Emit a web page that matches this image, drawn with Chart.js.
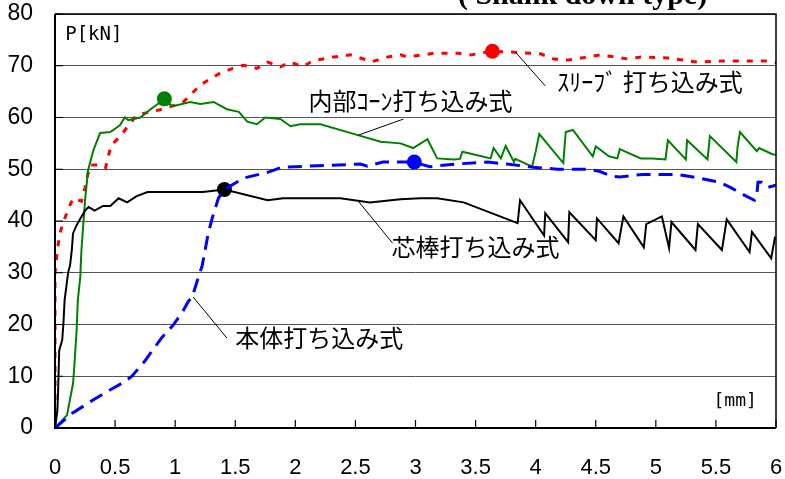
<!DOCTYPE html>
<html>
<head>
<meta charset="utf-8">
<script src="https://cdn.jsdelivr.net/npm/chart.js@4"></script>
<style>
html,body{margin:0;padding:0;background:#fff;}
#wrap{width:785px;height:479px;position:relative;}
</style>
</head>
<body>
<div id="wrap"><canvas id="c" width="785" height="479"></canvas></div>
<script>
// ---- data (x: displacement mm, y: load kN) ----
const xTickLabels = ['0','0.5','1','1.5','2','2.5','3','3.5','4','4.5','5','5.5','6'];
const yTickLabels = ['0','10','20','30','40','50','60','70','80'];

const sleeveData = [[0,0],[0,15],[0,30],[0.02,34.4],[0.04,37.6],[0.07,39.8],[0.11,42.3],[0.15,44.4],[0.22,43.8],[0.25,46.5],[0.29,50.8],[0.36,50.8],[0.42,50.2],[0.44,52.3],[0.47,54.7],[0.54,56.3],[0.68,60.5],[0.875,61.5],[1.06,62.8],[1.21,66.3],[1.375,68.6],[1.48,69.5],[1.57,70.1],[1.68,69.5],[1.77,70.7],[1.875,69.8],[1.96,70.7],[2.06,69.8],[2.15,71],[2.32,71.7],[2.46,72.1],[2.54,71.5],[2.64,70.8],[2.77,71.7],[2.875,72.1],[2.93,71.7],[3.15,72.4],[3.35,72.4],[3.46,72.1],[3.64,72.8],[3.76,72.7],[4.04,72.3],[4.15,71.3],[4.27,71.1],[4.54,72.1],[4.77,71.3],[4.875,71.7],[5.1,71.5],[5.35,70.7],[5.54,70.9],[5.93,70.9],[6,70.6]];

const innerConeData = [[0,0],[0.1,2.5],[0.15,8.6],[0.16,11.7],[0.18,18.9],[0.19,24.7],[0.21,29.1],[0.22,34.4],[0.25,44],[0.275,49.8],[0.32,53.7],[0.375,57],[0.46,57.2],[0.54,58.5],[0.58,60],[0.61,59.5],[0.71,60],[0.79,61.5],[0.9,63.4],[0.98,62.2],[1.125,63],[1.21,62.6],[1.32,63],[1.43,61.6],[1.53,61.1],[1.6,59.2],[1.68,58.7],[1.75,60],[1.875,59.7],[1.96,58.3],[2.04,58.7],[2.21,58.7],[2.52,56.6],[2.71,55.3],[2.875,55],[2.98,54.1],[3.1,55.8],[3.18,52.1],[3.32,51.9],[3.37,52],[3.39,53.4],[3.625,52.1],[3.65,54.1],[3.71,52.1],[3.75,54.5],[3.82,51.4],[3.83,52],[3.97,50.5],[4.0,53.4],[4.03,56.8],[4.23,51.2],[4.25,57.2],[4.31,57.6],[4.475,52.5],[4.5,54.4],[4.61,52.5],[4.68,52.1],[4.7,53.9],[4.875,52.1],[4.97,52.1],[5.08,51.9],[5.1,55.6],[5.25,51.9],[5.26,55.6],[5.43,51.9],[5.45,56.4],[5.67,51.4],[5.68,54.3],[5.7,57.2],[5.84,53.5],[5.86,54.1],[5.97,52.9],[6,52.8]];

const coreRodData = [[0,0],[0.02,3.4],[0.025,6.6],[0.035,15],[0.06,17],[0.07,20.2],[0.08,24.7],[0.11,30.1],[0.125,31.4],[0.14,34.4],[0.15,37.6],[0.18,39.2],[0.22,40.8],[0.25,42],[0.28,42.7],[0.33,42],[0.4,42.9],[0.46,42.9],[0.53,44.4],[0.6,43.6],[0.68,44.8],[0.77,45.6],[1.23,45.6],[1.41,46.1],[1.77,44],[1.9,44.4],[2.375,44.4],[2.62,43.6],[2.875,44.2],[3.04,44.4],[3.18,44.4],[3.4,43.6],[3.85,39.6],[3.87,44],[4.07,37.2],[4.08,41.5],[4.27,35.9],[4.28,41.7],[4.5,36.3],[4.51,40.5],[4.69,35.7],[4.73,40.9],[4.9,34.9],[4.92,39.4],[5.05,40.9],[5.11,34.8],[5.13,39.8],[5.33,34.4],[5.35,39.4],[5.55,34.4],[5.59,40.3],[5.78,34],[5.8,37.9],[5.96,32.8],[5.99,36.7],[6,36.4]];

const bodyData = [[0,0],[0.14,2.8],[0.31,5.3],[0.46,7.4],[0.57,8.8],[0.64,10],[0.75,13],[0.81,15],[0.89,17.5],[0.98,19.8],[1.06,22.4],[1.11,24.5],[1.14,25.2],[1.19,28.9],[1.225,31.4],[1.275,37.6],[1.31,40.7],[1.36,44.4],[1.41,46.1],[1.57,48.3],[1.77,49.4],[1.89,50.4],[2.54,51],[2.6,50.6],[2.73,51.4],[2.98,51.4],[3.12,50.5],[3.33,51],[3.6,51.4],[3.76,51],[3.98,50.4],[4.18,50],[4.43,50],[4.53,49.6],[4.63,48.7],[4.7,48.5],[4.89,49],[5.17,49],[5.31,48.5],[5.53,47.5],[5.62,46.5],[5.72,45.2],[5.82,44],[5.84,45],[5.85,47.5],[5.88,47.5],[5.93,46.5],[6,46.9]];

// peak markers [x, y]
const sleevePeak = [3.64, 72.8];
const innerConePeak = [0.91, 63.6];
const coreRodPeak = [1.41, 46.1];
const bodyPeak = [2.99, 51.4];

// text labels
const titleText = '( Shank down type)';
const yUnitText = 'P[kN]';
const xUnitText = '[mm]';
const seriesLabels = ['ｽﾘｰﾌﾞ 打ち込み式', '内部ｺｰﾝ打ち込み式', '芯棒打ち込み式', '本体打ち込み式'];

// ---- annotation placement (data units) ----
const labelPos = [[4.18, 66.9], [2.11, 63.2], [2.8, 35.0], [1.5, 17.4]];
const leaders = [[[3.83, 72.7], [4.08, 66.1]], [[2.525, 56.6], [2.9, 59.7]], [[2.525, 43.8], [2.81, 35.7]], [[1.15, 25.3], [1.43, 17.4]]];

const toXY = a => a.map(p => ({x: p[0], y: p[1]}));

function lineDs(data, color, width, dash) {
  return {data: toXY(data), showLine: true, borderColor: color, borderWidth: width,
          borderDash: dash, pointRadius: 0, tension: 0, fill: false, borderCapStyle: 'butt'};
}
function peakDs(p, color) {
  return {data: toXY([p]), showLine: false, pointRadius: 7.5, pointBackgroundColor: color,
          pointBorderColor: color, pointBorderWidth: 0, pointHoverRadius: 7.5};
}
function noPad(s) { s.paddingTop = 0; s.paddingBottom = 0; s.paddingLeft = 0; s.paddingRight = 0; }

const frame = {
  id: 'frame',
  afterDraw(chart) {
    const {ctx, chartArea: a, scales: {x, y}} = chart;
    ctx.save();
    // frame
    ctx.strokeStyle = '#000';
    ctx.lineWidth = 1.5;
    ctx.beginPath();
    ctx.moveTo(a.left, a.top); ctx.lineTo(a.right, a.top); ctx.lineTo(a.right, a.bottom);
    ctx.stroke();
    ctx.lineWidth = 2;
    ctx.beginPath();
    ctx.moveTo(a.left, a.top); ctx.lineTo(a.left, a.bottom); ctx.lineTo(a.right, a.bottom);
    ctx.stroke();
    // inward ticks
    ctx.lineWidth = 1.2;
    ctx.beginPath();
    x.ticks.forEach(t => { const px = x.getPixelForValue(t.value); ctx.moveTo(px, a.bottom); ctx.lineTo(px, a.bottom - 8); });
    y.ticks.forEach(t => { const py = y.getPixelForValue(t.value); ctx.moveTo(a.left, py); ctx.lineTo(a.left + 8, py); });
    ctx.stroke();
    // leader lines
    ctx.lineWidth = 1;
    ctx.beginPath();
    leaders.forEach(l => {
      ctx.moveTo(x.getPixelForValue(l[0][0]), y.getPixelForValue(l[0][1]));
      ctx.lineTo(x.getPixelForValue(l[1][0]), y.getPixelForValue(l[1][1]));
    });
    ctx.stroke();
    // series labels
    ctx.fillStyle = '#000';
    ctx.textBaseline = 'middle';
    ctx.textAlign = 'left';
    ctx.font = '24px "Noto Sans CJK JP", sans-serif';
    seriesLabels.forEach((s, i) => {
      ctx.fillText(s, x.getPixelForValue(labelPos[i][0]), y.getPixelForValue(labelPos[i][1]));
    });
    // unit labels
    ctx.font = '19px "DejaVu Sans Mono", monospace';
    ctx.fillText(yUnitText, x.getPixelForValue(0.085), y.getPixelForValue(76));
    ctx.font = '18px "DejaVu Sans Mono", monospace';
    ctx.fillText(xUnitText, x.getPixelForValue(5.48), y.getPixelForValue(5.2));
    // title (clipped at top of page)
    ctx.font = 'bold 30px "Liberation Serif", serif';
    ctx.textAlign = 'center';
    ctx.textBaseline = 'alphabetic';
    ctx.fillText(titleText, x.getPixelForValue(4.39), 4);
    ctx.restore();
  }
};

new Chart(document.getElementById('c'), {
  type: 'scatter',
  data: {
    datasets: [
      lineDs(bodyData, '#0000ff', 3, [14, 8]),
      lineDs(coreRodData, '#000000', 2, []),
      lineDs(innerConeData, '#008000', 2, []),
      lineDs(sleeveData, '#ff0000', 3, [6, 8]),
      peakDs(sleevePeak, '#ff0000'),
      peakDs(innerConePeak, '#008000'),
      peakDs(coreRodPeak, '#000000'),
      peakDs(bodyPeak, '#0000ff')
    ]
  },
  options: {
    responsive: false,
    animation: false,
    events: [],
    layout: {padding: {top: 14, right: 9, left: 0, bottom: 0}},
    plugins: {legend: {display: false}, tooltip: {enabled: false}, title: {display: false}},
    scales: {
      x: {
        type: 'linear', min: 0, max: 6,
        grid: {display: false, drawTicks: false},
        border: {display: false},
        afterFit: s => { s.height = 51; noPad(s); },
        afterBuildTicks: s => { s.ticks = xTickLabels.map(v => ({value: parseFloat(v)})); },
        ticks: {
          padding: 27,
          color: '#000',
          font: {family: '"Liberation Sans Narrow", "Liberation Sans", Arial, sans-serif', size: 22},
          maxRotation: 0, autoSkip: false,
          callback: (v, i) => xTickLabels[i]
        }
      },
      y: {
        type: 'linear', min: 0, max: 80,
        grid: {color: '#555555', lineWidth: 1, drawTicks: false},
        border: {display: false},
        afterFit: s => { s.width = 55; noPad(s); },
        afterBuildTicks: s => { s.ticks = yTickLabels.map(v => ({value: parseFloat(v)})); },
        ticks: {
          padding: 22,
          color: '#000',
          font: {family: '"Liberation Sans Narrow", "Liberation Sans", Arial, sans-serif', size: 23},
          autoSkip: false,
          callback: (v, i) => yTickLabels[i]
        }
      }
    }
  },
  plugins: [frame]
});
</script>
</body>
</html>
